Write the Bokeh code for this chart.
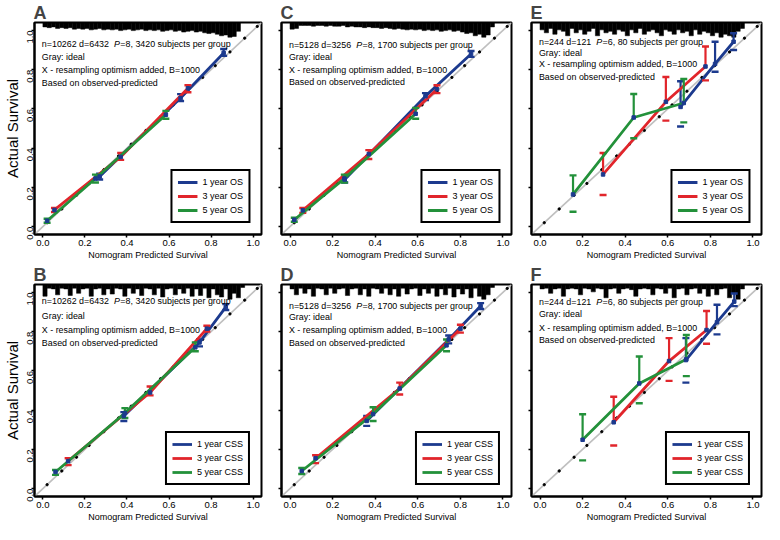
import math
from bokeh.plotting import figure
from bokeh.layouts import row, column
from bokeh.models import (Range1d, FixedTicker, CustomJSTickFormatter,
                          Legend, LegendItem, Slope)
from bokeh.embed import file_html
from bokeh.resources import INLINE
from bokeh.core.properties import value

# ---------------------------------------------------------------- data
tick_values = [0.0, 0.2, 0.4, 0.6, 0.8, 1.0]
tick_labels = ["0.0", "0.2", "0.4", "0.6", "0.8", "1.0"]

panel_letters = ["A", "C", "E", "B", "D", "F"]
panel_counts = ["n=10262 d=6432", "n=5128 d=3256", "n=244 d=121",
                "n=10262 d=6432", "n=5128 d=3256", "n=244 d=121"]
panel_P = ["8", "8", "6", "8", "8", "6"]
panel_group = ["3420", "1700", "80", "3420", "1700", "80"]
legend_os = ["1 year OS", "3 year OS", "5 year OS"]
legend_css = ["1 year CSS", "3 year CSS", "5 year CSS"]
note_lines = ["Gray: ideal", "X - resampling optimism added, B=1000",
              "Based on observed-predicted"]

# small black dots along the ideal line
ideal_dots = [0.02, 0.09, 0.16, 0.22, 0.29, 0.36, 0.42, 0.49, 0.56, 0.62,
              0.69, 0.76, 0.82, 0.89, 0.96, 1.02]

# calibration points: predicted, observed, upper, lower  (1y, 3y, 5y)
A_1y_pred = [0.27, 0.655, 0.86];  A_1y_obs = [0.255, 0.655, 0.885]
A_1y_up = [0.27, 0.675, 0.905];   A_1y_lo = [0.24, 0.64, 0.87]
A_3y_pred = [0.055, 0.37, 0.69];  A_3y_obs = [0.085, 0.355, 0.705]
A_3y_up = [0.095, 0.375, 0.72];   A_3y_lo = [0.075, 0.34, 0.685]
A_5y_pred = [0.02, 0.25, 0.585];  A_5y_obs = [0.03, 0.245, 0.57]
A_5y_up = [0.04, 0.265, 0.59];    A_5y_lo = [0.02, 0.225, 0.55]

C_1y_pred = [0.257, 0.636, 0.85]; C_1y_obs = [0.24, 0.665, 0.88]
C_1y_up = [0.255, 0.68, 0.895];   C_1y_lo = [0.225, 0.645, 0.865]
C_3y_pred = [0.06, 0.37, 0.69];   C_3y_obs = [0.083, 0.37, 0.70]
C_3y_up = [0.095, 0.39, 0.72];    C_3y_lo = [0.07, 0.345, 0.68]
C_5y_pred = [0.02, 0.255, 0.59];  C_5y_obs = [0.035, 0.245, 0.575]
C_5y_up = [0.045, 0.265, 0.605];  C_5y_lo = [0.025, 0.225, 0.55]

E_1y_pred = [0.66, 0.822, 0.909]; E_1y_obs = [0.61, 0.829, 0.942]
E_1y_up = [0.741, 0.942, 0.985];  E_1y_lo = [0.51, 0.789, 0.90]
E_3y_pred = [0.296, 0.591, 0.777]; E_3y_obs = [0.266, 0.636, 0.816]
E_3y_up = [0.375, 0.762, 0.918];  E_3y_lo = [0.161, 0.54, 0.745]
E_5y_pred = [0.155, 0.44, 0.675]; E_5y_obs = [0.164, 0.556, 0.63]
E_5y_up = [0.261, 0.676, 0.752];  E_5y_lo = [0.076, 0.45, 0.531]

B_1y_pred = [0.385, 0.745, 0.87]; B_1y_obs = [0.37, 0.745, 0.925]
B_1y_up = [0.39, 0.76, 0.94];     B_1y_lo = [0.345, 0.725, 0.91]
B_3y_pred = [0.12, 0.51, 0.78];   B_3y_obs = [0.14, 0.49, 0.815]
B_3y_up = [0.155, 0.52, 0.83];    B_3y_lo = [0.12, 0.475, 0.80]
B_5y_pred = [0.06, 0.39, 0.725];  B_5y_obs = [0.085, 0.385, 0.72]
B_5y_up = [0.095, 0.41, 0.745];   B_5y_lo = [0.07, 0.36, 0.70]

D_1y_pred = [0.36, 0.745, 0.895]; D_1y_obs = [0.345, 0.76, 0.93]
D_1y_up = [0.37, 0.78, 0.945];    D_1y_lo = [0.32, 0.74, 0.915]
D_3y_pred = [0.12, 0.515, 0.80];  D_3y_obs = [0.155, 0.51, 0.815]
D_3y_up = [0.17, 0.54, 0.835];    D_3y_lo = [0.13, 0.48, 0.795]
D_5y_pred = [0.055, 0.39, 0.735]; D_5y_obs = [0.09, 0.38, 0.73]
D_5y_up = [0.105, 0.415, 0.76];   D_5y_lo = [0.075, 0.345, 0.70]

F_1y_pred = [0.685, 0.831, 0.912]; F_1y_obs = [0.655, 0.848, 0.953]
F_1y_up = [0.767, 0.937, 0.994];  F_1y_lo = [0.54, 0.786, 0.93]
F_3y_pred = [0.346, 0.606, 0.782]; F_3y_obs = [0.338, 0.65, 0.808]
F_3y_up = [0.468, 0.767, 0.905];  F_3y_lo = [0.22, 0.549, 0.738]
F_5y_pred = [0.20, 0.466, 0.687]; F_5y_obs = [0.249, 0.536, 0.659]
F_5y_up = [0.379, 0.673, 0.783];  F_5y_lo = [0.144, 0.435, 0.573]

# spike histogram of predicted values (relative heights, 50 bins over 0..1)
rug_A = [0.3, 0.35, 0.3, 0.4, 0.35, 0.4, 0.35, 0.45, 0.4, 0.45,
         0.4, 0.5, 0.45, 0.4, 0.5, 0.45, 0.5, 0.45, 0.55, 0.5,
         0.45, 0.55, 0.5, 0.45, 0.55, 0.5, 0.55, 0.5, 0.6, 0.55,
         0.5, 0.6, 0.55, 0.65, 0.6, 0.55, 0.65, 0.6, 0.7, 0.75,
         0.7, 0.8, 0.9, 0.85, 1.0, 0.95, 0.6, 0, 0, 0]
rug_C = [0.45, 0.4, 0.2, 0.2, 0.2, 0.25, 0.2, 0.2, 0.25, 0.2,
         0.25, 0.25, 0.2, 0.3, 0.25, 0.3, 0.3, 0.35, 0.3, 0.35,
         0.35, 0.4, 0.35, 0.4, 0.45, 0.4, 0.45, 0.5, 0.45, 0.5,
         0.45, 0.55, 0.5, 0.55, 0.5, 0.6, 0.55, 0.5, 0.6, 0.55,
         0.65, 0.75, 0.7, 0.9, 0.8, 1.0, 0.85, 0.3, 0, 0]
rug_E = [0.5, 0.7, 0.4, 0.8, 0.5, 0.6, 0.9, 0.4, 0.7, 0.5,
         0.8, 0.6, 0.4, 0.9, 0.5, 0.7, 0.6, 0.8, 0.5, 0.6,
         0.9, 0.5, 0.7, 0.4, 0.8, 0.6, 0.5, 0.7, 0.9, 0.5,
         0.6, 0.8, 0.5, 0.7, 0.6, 0.9, 0.5, 0.8, 0.6, 0.7,
         0.9, 0.7, 1.0, 0.8, 0.9, 1.0, 0.6, 0.4, 0, 0]
rug_B = [0.8, 0.25, 0.3, 0.7, 0.25, 0.3, 0.75, 0.25, 0.6, 0.3,
         0.25, 0.8, 0.3, 0.25, 0.7, 0.3, 0.65, 0.25, 0.3, 0.8,
         0.25, 0.6, 0.3, 0.75, 0.25, 0.3, 0.7, 0.25, 0.85, 0.3,
         0.25, 0.7, 0.3, 0.6, 0.25, 0.8, 0.3, 0.75, 0.25, 0.9,
         0.3, 0.7, 0.85, 0.3, 1.0, 0.6, 0.9, 0.2, 0, 0]
rug_D = [0.3, 0.7, 0.25, 0.6, 0.3, 0.8, 0.25, 0.3, 0.7, 0.25,
         0.6, 0.3, 0.25, 0.75, 0.3, 0.25, 0.7, 0.3, 0.8, 0.25,
         0.3, 0.6, 0.25, 0.7, 0.3, 0.8, 0.25, 0.65, 0.3, 0.25,
         0.75, 0.3, 0.6, 0.25, 0.8, 0.3, 0.7, 0.25, 0.85, 0.3,
         0.65, 0.3, 0.9, 0.25, 0.8, 1.0, 0.7, 0.2, 0, 0]
rug_F = [0.3, 0.25, 0.6, 0.3, 0.25, 0.8, 0.3, 0.25, 0.3, 0.7,
         0.25, 0.3, 0.5, 0.25, 0.3, 0.9, 0.3, 0.25, 0.6, 0.3,
         0.25, 0.35, 0.8, 0.3, 0.25, 0.3, 0.7, 0.25, 0.3, 0.6,
         0.25, 0.9, 0.3, 0.25, 0.7, 0.3, 0.25, 0.6, 0.3, 0.8,
         0.3, 0.7, 0.3, 0.25, 0.9, 0.6, 1.0, 0.3, 0, 0]

# ---------------------------------------------------------------- style
FONT = "Liberation Sans"
COLORS = ["#1c3a8e", "#e1252b", "#23913a"]
MARK = "#1c3a8e"
NOTE_Y = {"A": [0.93, 0.866, 0.80, 0.73], "C": [0.925, 0.865, 0.80, 0.735],
          "E": [0.94, 0.885, 0.83, 0.76], "B": [0.955, 0.88, 0.81, 0.74],
          "D": [0.93, 0.872, 0.81, 0.74], "F": [0.95, 0.89, 0.82, 0.755]}
ARIAL_W = {"n": 556, "=": 584, " ": 278, "d": 556, "P": 667}


def text_w(s, fs):
    return sum(ARIAL_W.get(ch, 556) for ch in s) / 1000.0 * fs


LO, HI = -0.04, 1.04
FRAME_W = 230
NOTE_FS = 8.9


def make_panel(letter, counts, pval, group, series, rug, labels, first_col):
    left = 31 if first_col else 18
    p = figure(width=left + FRAME_W + 2, height=262,
               x_range=Range1d(LO, HI), y_range=Range1d(LO, HI),
               output_backend="svg", toolbar_location=None,
               min_border_left=left, min_border_right=2,
               min_border_top=19, min_border_bottom=27,
               title=letter, background_fill_color="white")
    p.title.text_font = FONT
    p.title.text_font_size = "18px"
    p.title.text_font_style = "bold"
    p.title.standoff = 0
    p.title.offset = -1
    p.grid.visible = False
    p.outline_line_color = "black"
    p.outline_line_width = 2
    p.outline_line_alpha = 1

    for ax in (p.xaxis[0], p.yaxis[0]):
        ax.ticker = FixedTicker(ticks=tick_values)
        ax.axis_line_color = "black"
        ax.axis_line_width = 2
        ax.major_tick_out = 3
        ax.major_tick_in = 0
        ax.major_tick_line_width = 1.5
        ax.minor_tick_line_color = None
        ax.major_label_text_font = FONT
        ax.major_label_text_font_size = "9.5px"
        ax.major_label_text_color = "black"
        ax.axis_label_text_font_style = "normal"
        ax.axis_label_text_color = "black"

    p.xaxis.major_label_overrides = dict(zip(tick_values, tick_labels))
    p.xaxis.major_label_standoff = 2
    p.xaxis.axis_label = "Nomogram Predicted Survival"
    p.xaxis.axis_label_text_font = FONT
    p.xaxis.axis_label_text_font_size = "9px"
    p.xaxis.axis_label_standoff = 1

    if first_col:
        p.yaxis.major_label_overrides = dict(zip(tick_values, tick_labels))
        p.yaxis.major_label_orientation = math.pi / 2
        p.yaxis.major_label_standoff = 1
        p.yaxis.axis_label = "Actual Survival"
        p.yaxis.axis_label_text_font = FONT
        p.yaxis.axis_label_text_font_size = "15px"
        p.yaxis.axis_label_standoff = 1
    else:
        p.yaxis.formatter = CustomJSTickFormatter(code="return ''")
        p.yaxis.major_label_standoff = 0

    # ideal line
    p.add_layout(Slope(gradient=1, y_intercept=0, line_color="#bfbfbf",
                       line_width=1.6, level="underlay"))
    # spike histogram at the top
    bins = [i * 0.02 for i in range(len(rug))]
    p.quad(left=bins, right=[b + 0.02 for b in bins],
           top=[HI] * len(rug), bottom=[HI - h * 0.075 for h in rug],
           fill_color="black", line_color="black", line_width=0.5)
    # dots along the ideal line
    p.scatter(ideal_dots, ideal_dots, size=2.3, color="black")

    items = []
    for (pred, obs, up, lo), col, lab in zip(series, COLORS, labels):
        r = p.line(pred, obs, line_color=col, line_width=2.8)
        p.segment(x0=pred, y0=obs, x1=pred, y1=up, line_color=col, line_width=2.2)
        p.scatter(pred, up, marker="dash", size=7, line_color=col, line_width=2.4)
        p.scatter(pred, lo, marker="dash", size=7, line_color=col, line_width=2.4)
        items.append(LegendItem(label=lab, renderers=[r]))
    for pred, obs, up, lo in series:
        p.scatter(pred, obs, marker="square", size=3.5, color=MARK)

    legend = Legend(items=items, location="bottom_right",
                    label_text_font=FONT, label_text_font_size="9px",
                    label_text_color="black",
                    label_height=12, glyph_height=12, glyph_width=20,
                    label_standoff=5, spacing=2, padding=5, margin=11,
                    border_line_color="black", border_line_width=2.2,
                    border_line_alpha=1.0,
                    background_fill_color="white", background_fill_alpha=1.0)
    p.add_layout(legend)

    # notes in the top-left corner
    ny = NOTE_Y[letter]
    fs = NOTE_FS
    prefix = counts + "  "
    x0 = -0.005
    p.text(x=[x0], y=[ny[0]], text=[counts], text_font=value(FONT),
           text_font_size=f"{fs}px", text_baseline="middle", text_color="black")
    off = text_w(prefix, fs)
    p.text(x=[x0], y=[ny[0]], text=["P"], x_offset=off, text_font=value(FONT),
           text_font_size=f"{fs}px", text_font_style="italic",
           text_baseline="middle", text_color="black")
    off2 = off + text_w("P", fs) + 0.3
    p.text(x=[x0], y=[ny[0]], text=[f"={pval}, {group} subjects per group"],
           x_offset=off2, text_font=value(FONT), text_font_size=f"{fs}px",
           text_baseline="middle", text_color="black")
    for yy, line in zip(ny[1:], note_lines):
        p.text(x=[x0], y=[yy], text=[line], text_font=value(FONT),
               text_font_size=f"{fs}px", text_baseline="middle",
               text_color="black")
    return p


series_A = [(A_1y_pred, A_1y_obs, A_1y_up, A_1y_lo), (A_3y_pred, A_3y_obs, A_3y_up, A_3y_lo),
            (A_5y_pred, A_5y_obs, A_5y_up, A_5y_lo)]
series_C = [(C_1y_pred, C_1y_obs, C_1y_up, C_1y_lo), (C_3y_pred, C_3y_obs, C_3y_up, C_3y_lo),
            (C_5y_pred, C_5y_obs, C_5y_up, C_5y_lo)]
series_E = [(E_1y_pred, E_1y_obs, E_1y_up, E_1y_lo), (E_3y_pred, E_3y_obs, E_3y_up, E_3y_lo),
            (E_5y_pred, E_5y_obs, E_5y_up, E_5y_lo)]
series_B = [(B_1y_pred, B_1y_obs, B_1y_up, B_1y_lo), (B_3y_pred, B_3y_obs, B_3y_up, B_3y_lo),
            (B_5y_pred, B_5y_obs, B_5y_up, B_5y_lo)]
series_D = [(D_1y_pred, D_1y_obs, D_1y_up, D_1y_lo), (D_3y_pred, D_3y_obs, D_3y_up, D_3y_lo),
            (D_5y_pred, D_5y_obs, D_5y_up, D_5y_lo)]
series_F = [(F_1y_pred, F_1y_obs, F_1y_up, F_1y_lo), (F_3y_pred, F_3y_obs, F_3y_up, F_3y_lo),
            (F_5y_pred, F_5y_obs, F_5y_up, F_5y_lo)]

all_series = [series_A, series_C, series_E, series_B, series_D, series_F]
all_rugs = [rug_A, rug_C, rug_E, rug_B, rug_D, rug_F]

panels = []
for i in range(6):
    labels = legend_os if i < 3 else legend_css
    panels.append(make_panel(panel_letters[i], panel_counts[i], panel_P[i],
                             panel_group[i], all_series[i], all_rugs[i],
                             labels, first_col=(i % 3 == 0)))

layout = column(row(*panels[:3]), row(*panels[3:]))
open("out.html", "w").write(file_html(layout, INLINE))
